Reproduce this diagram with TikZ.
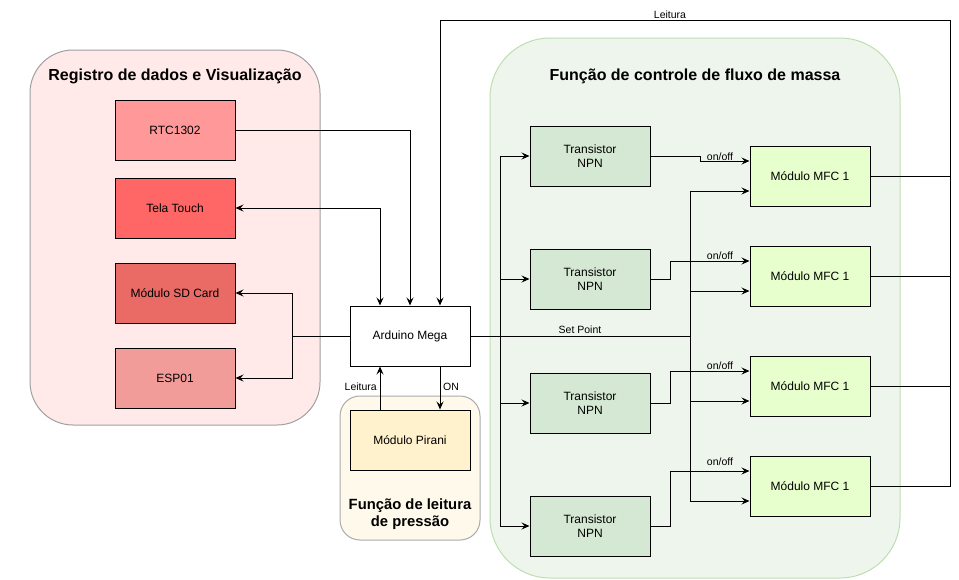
\documentclass[tikz,border=0pt]{standalone}
\usepackage{fontspec}
\setmainfont{Liberation Sans}
\usetikzlibrary{arrows.meta}
\definecolor{grpR}{RGB}{255,233,233}
\definecolor{grpRs}{RGB}{160,160,160}
\definecolor{grpG}{RGB}{238,245,236}
\definecolor{grpGs}{RGB}{190,222,175}
\definecolor{grpY}{RGB}{255,249,235}
\definecolor{grpYs}{RGB}{170,170,170}
\definecolor{cRTC}{HTML}{FF9999}
\definecolor{cTela}{HTML}{FF6666}
\definecolor{cSD}{HTML}{EA6B66}
\definecolor{cESP}{HTML}{F19C99}
\definecolor{cPir}{HTML}{FFF2CC}
\definecolor{cTr}{HTML}{D5E8D4}
\definecolor{cMFC}{HTML}{E6FFCC}
\begin{document}
\begin{tikzpicture}[x=1pt,y=-1pt,
  box/.style={draw, line width=1pt, minimum width=120pt, minimum height=60pt, inner sep=0pt,
    font=\fontsize{12}{14}\selectfont, align=center},
  grp/.style={line width=1pt},
  gtitle/.style={font=\bfseries\fontsize{16}{17}\selectfont, align=center, inner sep=0pt},
  conn/.style={line width=1pt},
  arr/.style={conn, -{Stealth[length=8pt,width=7pt,inset=3pt]}},
  darr/.style={conn, {Stealth[length=8pt,width=7pt,inset=3pt]}-{Stealth[length=8pt,width=7pt,inset=3pt]}},
  lbl/.style={font=\fontsize{10.5}{12}\selectfont, inner sep=0pt}]
\useasboundingbox (0,0) rectangle (959,579);
% groups
\draw[grp, draw=grpRs, fill=grpR, rounded corners=43pt] (30,50) rectangle (320,425);
\draw[grp, draw=grpGs, fill=grpG, rounded corners=60pt] (490,38) rectangle (900,578);
\draw[grp, draw=grpYs, fill=grpY, rounded corners=20pt] (340,396) rectangle (480,540);
\node[gtitle] (tR) at (175,76) {Registro de dados e Visualização};
\node[gtitle] (tG) at (695,76) {Função de controle de fluxo de massa};
\node[gtitle, font=\bfseries\fontsize{14.8}{17.5}\selectfont] (tY) at (410,514) {Função de leitura\\de pressão};
% nodes
\node[box, fill=cRTC] (rtc) at (175,130) {RTC1302};
\node[box, fill=cTela] (tela) at (175,208) {Tela Touch};
\node[box, fill=cSD] (sd) at (175,293) {Módulo SD Card};
\node[box, fill=cESP] (esp) at (175,378) {ESP01};
\node[box, fill=white] (ard) at (410,336) {Arduino Mega};
\node[box, fill=cPir] (pir) at (410,440) {Módulo Pirani};
\node[box, fill=cTr] (t1) at (590,156) {Transistor\\NPN};
\node[box, fill=cTr] (t2) at (590,279) {Transistor\\NPN};
\node[box, fill=cTr] (t3) at (590,403) {Transistor\\NPN};
\node[box, fill=cTr] (t4) at (590,526) {Transistor\\NPN};
\node[box, fill=cMFC] (m1) at (810,176) {Módulo MFC 1};
\node[box, fill=cMFC] (m2) at (810,276) {Módulo MFC 1};
\node[box, fill=cMFC] (m3) at (810,386) {Módulo MFC 1};
\node[box, fill=cMFC] (m4) at (810,486) {Módulo MFC 1};
% junction coordinates
\coordinate (lj) at (292,336);
\coordinate (tj) at (500,336);
\coordinate (sj) at (690,336);
\coordinate (topR) at (950,20);
% left side
\draw[arr] (rtc.east) -| (ard.north);
\draw[darr] (tela.east) -| ([xshift=-30pt]ard.north);
\draw[conn] (ard.west) -- (lj);
\draw[arr] (lj) |- (sd.east);
\draw[arr] (lj) |- (esp.east);
% pirani
\draw[arr] ([xshift=-30pt]pir.north) -- ([xshift=-30pt]ard.south);
\draw[arr] ([xshift=30pt]ard.south) -- ([xshift=30pt]pir.north);
\node[lbl, anchor=east] (lLe) at (377,387) {Leitura};
\node[lbl, anchor=west] (lON) at (443,387) {ON};
% right side
\draw[conn] (ard.east) -- (sj);
\node[lbl] (lSP) at (580,330) {Set Point};
\draw[arr] (tj) |- (t1.west);
\draw[arr] (tj) |- (t2.west);
\draw[arr] (tj) |- (t3.west);
\draw[arr] (tj) |- (t4.west);
\draw[arr] (sj) |- ([yshift=-15pt]m1.west);
\draw[arr] (sj) |- ([yshift=-15pt]m2.west);
\draw[arr] (sj) |- ([yshift=-15pt]m3.west);
\draw[arr] (sj) |- ([yshift=-15pt]m4.west);
\draw[arr] (t1.east) -- ++(50,0) |- ([yshift=15pt]m1.west);
\draw[arr] (t2.east) -- ++(20,0) |- ([yshift=15pt]m2.west);
\draw[arr] (t3.east) -- ++(20,0) |- ([yshift=15pt]m3.west);
\draw[arr] (t4.east) -- ++(20,0) |- ([yshift=15pt]m4.west);
\node[lbl] (o1) at (720,157) {on/off};
\node[lbl] (o2) at (720,256) {on/off};
\node[lbl] (o3) at (720,366) {on/off};
\node[lbl] (o4) at (720,462) {on/off};
% feedback loop
\draw[conn] (m1.east) -- (m1.east -| topR);
\draw[conn] (m2.east) -- (m2.east -| topR);
\draw[conn] (m3.east) -- (m3.east -| topR);
\draw[arr] (m4.east) -- (m4.east -| topR) -- (topR) -| ([xshift=30pt]ard.north);
\node[lbl] (lTop) at (670,15) {Leitura};
\end{tikzpicture}
\end{document}
